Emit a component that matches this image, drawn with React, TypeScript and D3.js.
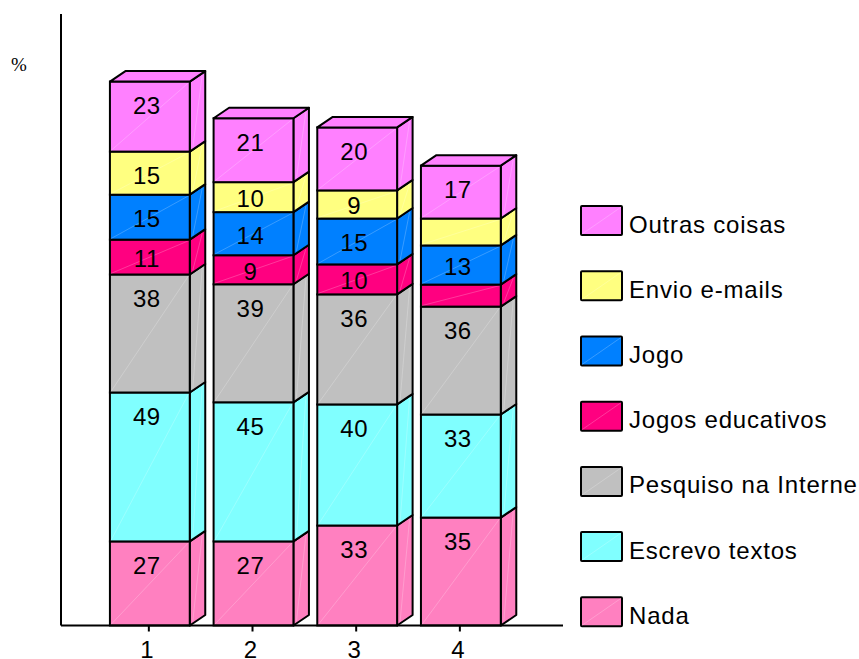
import { scaleBand, scaleLinear } from 'd3'

const width = 859
const height = 659

const categories = ['1', '2', '3', '4']
const seriesNames = [
  'Nada',
  'Escrevo textos',
  'Pesquiso na Interne',
  'Jogos educativos',
  'Jogo',
  'Envio e-mails',
  'Outras coisas',
]
const colors = ['#ff80c0', '#80ffff', '#c0c0c0', '#ff0080', '#0080ff', '#ffff80', '#ff80ff']

// heights, the printed labels are rounded
const nada = [27.5, 27.5, 32.7, 35.3]
const escrevo = [48.7, 45.5, 39.6, 33.7]
const pesquiso = [38.6, 38.6, 36, 35.3]
const educativos = [11.4, 9.5, 9.8, 7.2]
const jogo = [14.7, 14.1, 15, 12.8]
const envio = [14.1, 9.8, 9.2, 8.8]
const outras = [22.9, 20.9, 20.6, 17.3]
const seriesValues = [nada, escrevo, pesquiso, educativos, jogo, envio, outras]

// bar 4 prints nothing on its two thin segments
const seriesLabels = [
  ['27', '27', '33', '35'],
  ['49', '45', '40', '33'],
  ['38', '39', '36', '36'],
  ['11', '9', '10', ''],
  ['15', '14', '15', '13'],
  ['15', '10', '9', ''],
  ['23', '21', '20', '17'],
]

const depthX = 15.5
const depthY = 10.5
const font = '"Liberation Sans", Arial, sans-serif'

const xScale = scaleBand().domain(categories).range([98, 512.7]).paddingInner(0.23).paddingOuter(0.115)
const yScale = scaleLinear().domain([0, 200]).range([625.5, 14])

const legendY = scaleBand()
  .domain([...seriesNames].reverse())
  .range([188, 644.4])

function Bar({ category, index }: { category: string; index: number }) {
  const x0 = xScale(category)!
  const x1 = x0 + xScale.bandwidth()
  let total = 0
  const segments = seriesValues.map((values, s) => {
    const y0 = yScale(total)
    total += values[index]
    const y1 = yScale(total)
    return { s, y0, y1 }
  })
  const top = segments[segments.length - 1].y1
  return (
    <g>
      {segments.map(({ s, y0, y1 }) => (
        <g key={s}>
          <path
            d={`M${x1},${y0}L${x1 + depthX},${y0 - depthY}L${x1 + depthX},${y1 - depthY}L${x1},${y1}Z`}
            fill={colors[s]}
            stroke="black"
            strokeWidth={2}
            strokeLinejoin="round"
          />
          <line x1={x1 + 3} y1={y0 - 4} x2={x1 + depthX - 3} y2={y1 - depthY + 4} stroke="white" strokeOpacity={0.22} />
          <rect x={x0} y={y1} width={x1 - x0} height={y0 - y1} fill={colors[s]} stroke="black" strokeWidth={2} />
          <line x1={x0 + 1} y1={y0 - 1} x2={x1 - 1} y2={y1 + 1} stroke="white" strokeOpacity={0.22} />
        </g>
      ))}
      <path
        d={`M${x0},${top}L${x0 + depthX},${top - depthY}L${x1 + depthX},${top - depthY}L${x1},${top}Z`}
        fill={colors[colors.length - 1]}
        stroke="black"
        strokeWidth={2}
        strokeLinejoin="round"
      />
      {segments.map(({ s, y0, y1 }) => (
        <text
          key={s}
          x={(x0 + x1) / 2 - 3}
          y={y1 + Math.min(24, (y0 - y1) * 0.55)}
          dy=".35em"
          textAnchor="middle"
          fontSize={24}
          letterSpacing={0.6}
        >
          {seriesLabels[s][index]}
        </text>
      ))}
    </g>
  )
}

export default function App() {
  return (
    <svg
      width={width}
      height={height}
      style={{ position: 'absolute', left: 0, top: 0, background: 'white' }}
      fontFamily={font}
    >
      <text x={11} y={71} fontSize={19} fontFamily='"Liberation Serif", serif'>
        %
      </text>
      {categories.map((c, i) => (
        <Bar key={c} category={c} index={i} />
      ))}
      <line x1={61} y1={yScale(200)} x2={61} y2={yScale(0)} stroke="black" strokeWidth={2} />
      <line x1={61} y1={yScale(0)} x2={563} y2={yScale(0)} stroke="black" strokeWidth={2} />
      {categories.map((c) => {
        const x = xScale(c)! + xScale.bandwidth() / 2
        return (
          <g key={c}>
            <line x1={x - 1} x2={x - 1} y1={yScale(0)} y2={yScale(0) + 6} stroke="black" strokeWidth={2} />
            <text x={x - 3} y={649.5} textAnchor="middle" fontSize={24} dy=".35em">
              {c}
            </text>
          </g>
        )
      })}
      {seriesNames.map((name, s) => {
        const y = legendY(name)! + legendY.bandwidth() / 2
        return (
          <g key={name}>
            <rect x={581} y={y - 14.5} width={41} height={29} fill={colors[s]} stroke="black" strokeWidth={2} rx={1} />
            <line x1={582} y1={y + 13.5} x2={621} y2={y - 13.5} stroke="white" strokeOpacity={0.22} />
            <text x={629} y={y + 3.5} dy=".35em" fontSize={24} letterSpacing={0.8}>
              {name}
            </text>
          </g>
        )
      })}
    </svg>
  )
}
